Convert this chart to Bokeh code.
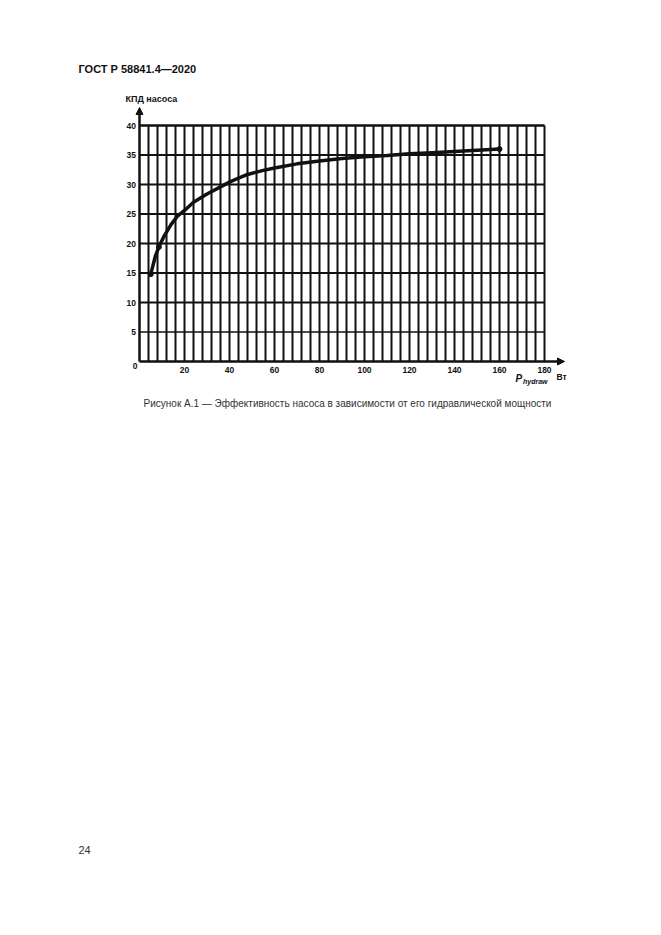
from bokeh.plotting import figure
from bokeh.models import Range1d, Arrow, NormalHead
from bokeh.core.properties import value
from bokeh.embed import file_html
from bokeh.resources import INLINE

# pump efficiency vs hydraulic power
power = [5, 6, 7, 8.6, 11, 14, 17, 20, 24, 30, 36, 40, 44, 48, 55, 60, 70, 80, 90, 100, 110, 120, 130, 140,
         150, 160]
efficiency = [14.8, 16.3, 17.8, 19.4, 21.3, 23.2, 24.7, 25.6, 27.0, 28.4, 29.6, 30.4, 31.1, 31.7, 32.4, 32.8,
              33.5, 34.0, 34.4, 34.7, 34.9, 35.2, 35.4, 35.6, 35.8, 36.0]
point_power = [5, 8.6, 160]
point_eff = [14.8, 19.4, 36.0]

x_ticks = [20, 40, 60, 80, 100, 120, 140, 160, 180]
x_labels = ["20", "40", "60", "80", "100", "120", "140", "160", "180"]
y_ticks = [5, 10, 15, 20, 25, 30, 35, 40]
y_labels = ["5", "10", "15", "20", "25", "30", "35", "40"]

header = "ГОСТ Р 58841.4—2020"
y_title = "КПД насоса"
caption = "Рисунок А.1 — Эффективность насоса в зависимости от его гидравлической мощности"
page_no = "24"

# page pixel -> data coordinates (frame fills the whole canvas)
X0, Y0, SX, SY = 139.0, 361.0, 2.25, 5.9


def px(x):
    return (x - X0) / SX


def py(y):
    return (Y0 - y) / SY


W, H = 645, 919
p = figure(width=W, height=H, output_backend="svg", toolbar_location=None,
           x_axis_location=None, y_axis_location=None, min_border=0,
           x_range=Range1d(px(0), px(W)), y_range=Range1d(py(H), py(0)))
p.grid.visible = False
p.outline_line_color = None
p.background_fill_color = "white"

black = "#111111"
font = value("Liberation Sans")

# grid
vx = list(range(4, 181, 4))
p.segment(x0=vx, y0=[0] * len(vx), x1=vx, y1=[40] * len(vx), line_color=black, line_width=2)
hy = y_ticks
p.segment(x0=[0] * len(hy), y0=hy, x1=[180] * len(hy), y1=hy, line_color=black,
          line_width=[1.3] + [2] * (len(hy) - 2) + [2.5])

# axes with arrows
p.add_layout(Arrow(x_start=0, y_start=0, x_end=0, y_end=py(107), line_width=2.5, line_color=black,
                   end=NormalHead(size=7, fill_color=black, line_color=black)))
p.add_layout(Arrow(x_start=0, y_start=0, x_end=px(564), y_end=0, line_width=2.5, line_color=black,
                   end=NormalHead(size=7, fill_color=black, line_color=black)))

# curve
p.line(power, efficiency, line_color=black, line_width=3.5, line_cap="round", line_join="round")
p.scatter(point_power, point_eff, size=5, color=black)

# tick labels
p.text(x=x_ticks, y=[py(369.5)] * len(x_ticks), text=x_labels, text_align="center", text_baseline="middle",
       text_font=font, text_font_style="bold", text_font_size="8.5px", text_color=black)
p.text(x=[px(135.5)] * len(y_ticks), y=y_ticks, text=y_labels, text_align="right", text_baseline="middle",
       text_font=font, text_font_style="bold", text_font_size="8.5px", text_color=black)
p.text(x=[px(134.5)], y=[py(365)], text=["0"], text_align="center", text_baseline="middle",
       text_font=font, text_font_style="bold", text_font_size="8.5px", text_color=black)

# axis titles
p.text(x=[px(125)], y=[py(98)], text=[y_title], text_align="left", text_baseline="middle",
       text_font=font, text_font_style="bold", text_font_size="9px", text_color=black)
p.text(x=[px(515)], y=[py(378)], text=["P"], text_align="left", text_baseline="middle",
       text_font=font, text_font_style="bold italic", text_font_size="10px", text_color=black)
p.text(x=[px(522.5)], y=[py(380.5)], text=["hydraw"], text_align="left", text_baseline="middle",
       text_font=font, text_font_style="bold italic", text_font_size="7px", text_color=black)
p.text(x=[px(556)], y=[py(376)], text=["Вт"], text_align="left", text_baseline="middle",
       text_font=font, text_font_style="bold", text_font_size="8.5px", text_color=black)

# page texts
p.text(x=[px(78)], y=[py(68)], text=[header], text_align="left", text_baseline="middle",
       text_font=font, text_font_style="bold", text_font_size="11px", text_color=black)
p.text(x=[px(347)], y=[py(403)], text=[caption], text_align="center", text_baseline="middle",
       text_font=font, text_font_size="10px", text_color="#333333")
p.text(x=[px(78)], y=[py(849)], text=[page_no], text_align="left", text_baseline="middle",
       text_font=font, text_font_size="11px", text_color="#333333")

open("out.html", "w").write(file_html(p, INLINE))
